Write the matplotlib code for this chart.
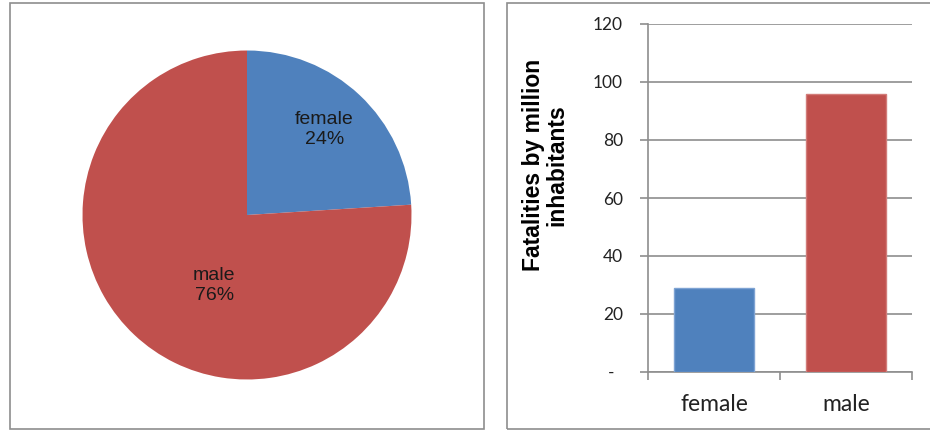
import matplotlib
matplotlib.use("Agg")
import matplotlib.pyplot as plt
from matplotlib.patches import Rectangle

# share of fatalities by sex
pie_labels = ["female", "male"]
pie_share = [24, 76]

# fatalities per million inhabitants
bar_labels = ["female", "male"]
bar_values = [29, 96]
y_ticks = [0, 20, 40, 60, 80, 100, 120]
y_tick_labels = ["-  ", "20", "40", "60", "80", "100", "120"]

colors = ["#4F81BD", "#C0504D"]
edge_colors = ["#7EA3D3", "#D27C79"]

W, H = 930, 432
fig = plt.figure(figsize=(W / 100, H / 100), dpi=100)


def px_box(x0, y0, x1, y1):
    # convert a box in pixel coords (origin top-left) to figure fractions
    return [x0 / W, 1 - y1 / H, (x1 - x0) / W, (y1 - y0) / H]


# panel frames
for x0, y0, x1, y1 in [(10, 3, 484, 429), (507, 3, 940, 429)]:
    fig.patches.append(Rectangle((x0 / W, 1 - y1 / H), (x1 - x0) / W, (y1 - y0) / H,
                                 transform=fig.transFigure, fill=False,
                                 edgecolor="#8E8E8E", linewidth=1.2))

# pie chart
cx, cy, r = 247, 215, 164.5
ax1 = fig.add_axes(px_box(cx - r, cy - r, cx + r, cy + r))
wedges, _ = ax1.pie(pie_share, colors=colors, startangle=90, counterclock=False,
                    radius=1, wedgeprops=dict(linewidth=0))
ax1.set_xlim(-1, 1)
ax1.set_ylim(-1, 1)
ax1.set_aspect("equal")
ax1.axis("off")

label_pos = [(0.47, 0.52), (-0.20, -0.43)]
for (lx, ly), name, share in zip(label_pos, pie_labels, pie_share):
    ax1.text(lx, ly, f"{name}\n{share}%", ha="center", va="center",
             fontsize=14, family="Liberation Sans", color="#1a1a1a",
             linespacing=1.2)

# bar chart
ax2 = fig.add_axes(px_box(648, 24, 912, 372))
x = range(len(bar_values))
ax2.bar(x, bar_values, width=0.61, color=colors, edgecolor=edge_colors,
        linewidth=1, zorder=3)
ax2.set_xlim(-0.5, len(bar_values) - 0.5)
ax2.set_ylim(0, 120)
ax2.set_yticks(y_ticks)
ax2.set_yticklabels(y_tick_labels, family="Lato", fontsize=12.5, color="#222222")
ax2.set_xticks(list(x))
ax2.set_xticklabels(bar_labels, family="Lato", fontsize=16.5, color="#222222")
ax2.set_xticks([-0.5, 0.5, 1.5], minor=True)
ax2.tick_params(axis="x", which="major", length=0, pad=16)
ax2.tick_params(axis="x", which="minor", length=6, width=1.2, color="#8E8E8E",
                direction="out")
ax2.tick_params(axis="y", length=6, width=1.2, color="#8E8E8E", pad=12)
ax2.grid(axis="y", color="#8E8E8E", linewidth=1.2, zorder=1)
for side in ["top", "right"]:
    ax2.spines[side].set_visible(False)
for side in ["left", "bottom"]:
    ax2.spines[side].set_color("#8E8E8E")
    ax2.spines[side].set_linewidth(1.2)

fig.text(545 / W, 1 - 165 / H, "Fatalities by million\ninhabitants",
         rotation=90, ha="center", va="center", multialignment="center",
         fontsize=16.5, fontweight="bold", family="Liberation Sans",
         linespacing=1.0)

fig.savefig("out.png", dpi=100)
